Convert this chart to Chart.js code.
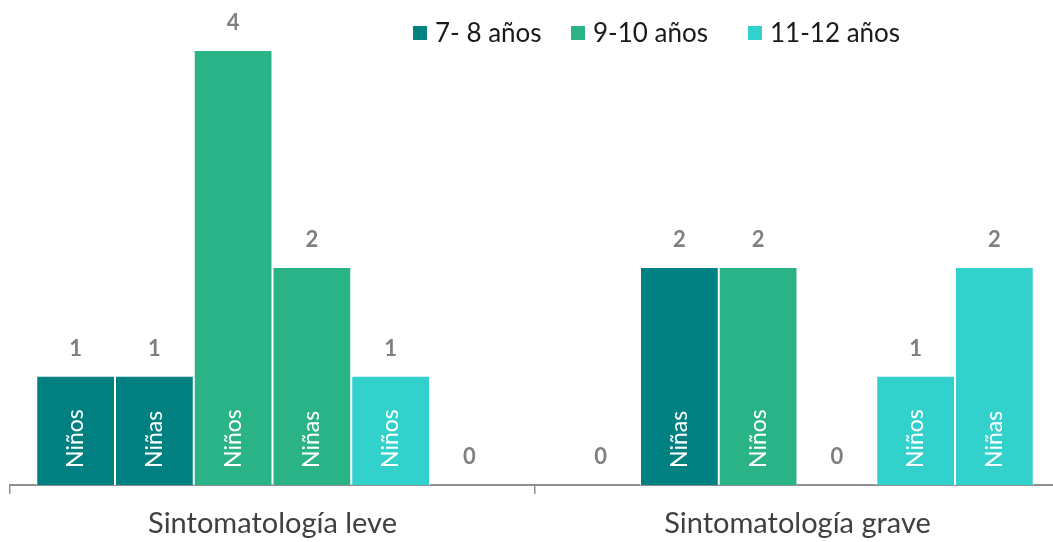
<!DOCTYPE html>
<html>
<head>
<meta charset="utf-8">
<script src="https://cdn.jsdelivr.net/npm/chart.js@4.4.1/dist/chart.umd.min.js"></script>
<style>
  html, body { margin: 0; padding: 0; background: #fff; overflow: hidden; }
  #wrap { width: 1060px; height: 542px; position: relative; }
</style>
</head>
<body>
<div id="wrap"><canvas id="chart"></canvas></div>
<script>
// Categories on the x axis
const categories = ['Sintomatología leve', 'Sintomatología grave'];

// Age groups shown in the legend
const ageGroups = ['7- 8 años', '9-10 años', '11-12 años'];
const ageColors = ['#008080', '#2AB386', '#33D1CC'];

// Counts per age group and sex: [leve, grave]
const ninos78 = [1, 0];
const ninas78 = [1, 2];
const ninos910 = [4, 2];
const ninas910 = [2, 0];
const ninos1112 = [1, 1];
const ninas1112 = [0, 2];

const series = [
  { sex: 'Niños', group: 0, values: ninos78 },
  { sex: 'Niñas', group: 0, values: ninas78 },
  { sex: 'Niños', group: 1, values: ninos910 },
  { sex: 'Niñas', group: 1, values: ninas910 },
  { sex: 'Niños', group: 2, values: ninos1112 },
  { sex: 'Niñas', group: 2, values: ninas1112 }
];

const FONT = 'Lato, "Open Sans", sans-serif';

// Value labels above bars and sex labels inside bars
const barLabels = {
  id: 'barLabels',
  afterDatasetsDraw(chart) {
    const ctx = chart.ctx;
    const base = chart.scales.y.getPixelForValue(0);
    chart.data.datasets.forEach((ds, i) => {
      const meta = chart.getDatasetMeta(i);
      meta.data.forEach((bar, j) => {
        const v = ds.data[j];
        ctx.save();
        ctx.fillStyle = '#808080';
        ctx.font = 'bold 22px ' + FONT;
        ctx.textAlign = 'center';
        ctx.textBaseline = 'alphabetic';
        ctx.fillText(String(v), bar.x, bar.y - 21);
        ctx.restore();
        if (v > 0) {
          ctx.save();
          ctx.translate(bar.x, base - 17);
          ctx.rotate(-Math.PI / 2);
          ctx.fillStyle = '#ffffff';
          ctx.font = '23px ' + FONT;
          ctx.textAlign = 'left';
          ctx.textBaseline = 'middle';
          ctx.fillText(ds.label, 0, 0);
          ctx.restore();
        }
      });
    });
  }
};

// Legend with one entry per age group
const ageLegend = {
  id: 'ageLegend',
  afterDraw(chart) {
    const ctx = chart.ctx;
    const xs = [413, 571, 748];
    ctx.save();
    ctx.font = '26px ' + FONT;
    ctx.textBaseline = 'middle';
    ctx.textAlign = 'left';
    ageGroups.forEach((g, i) => {
      ctx.fillStyle = ageColors[i];
      ctx.fillRect(xs[i], 26, 14, 14);
      ctx.fillStyle = '#1a1a1a';
      ctx.fillText(g, xs[i] + 22, 34);
    });
    ctx.restore();
  }
};

new Chart(document.getElementById('chart'), {
  type: 'bar',
  data: {
    labels: categories,
    datasets: series.map(s => ({
      label: s.sex,
      data: s.values,
      backgroundColor: ageColors[s.group],
      borderColor: '#ffffff',
      borderWidth: { left: 1, right: 1, top: 0, bottom: 0 },
      borderSkipped: false,
      barPercentage: 1,
      categoryPercentage: 0.9
    }))
  },
  options: {
    responsive: true,
    maintainAspectRatio: false,
    animation: false,
    layout: { padding: { top: 51, left: 10, right: 0, bottom: 0 } },
    plugins: { legend: { display: false }, tooltip: { enabled: false } },
    scales: {
      x: {
        grid: {
          offset: true,
          drawOnChartArea: false,
          drawTicks: true,
          tickLength: 9,
          color: '#8F8F8F',
          lineWidth: 1.5
        },
        border: { display: true, color: '#8F8F8F', width: 2 },
        ticks: {
          color: '#404040',
          font: { family: FONT, size: 29 },
          padding: 12,
          maxRotation: 0
        },
        afterFit(scale) { scale.height = 57; }
      },
      y: {
        display: false,
        min: 0,
        max: 4
      }
    }
  },
  plugins: [barLabels, ageLegend]
});
</script>
</body>
</html>
